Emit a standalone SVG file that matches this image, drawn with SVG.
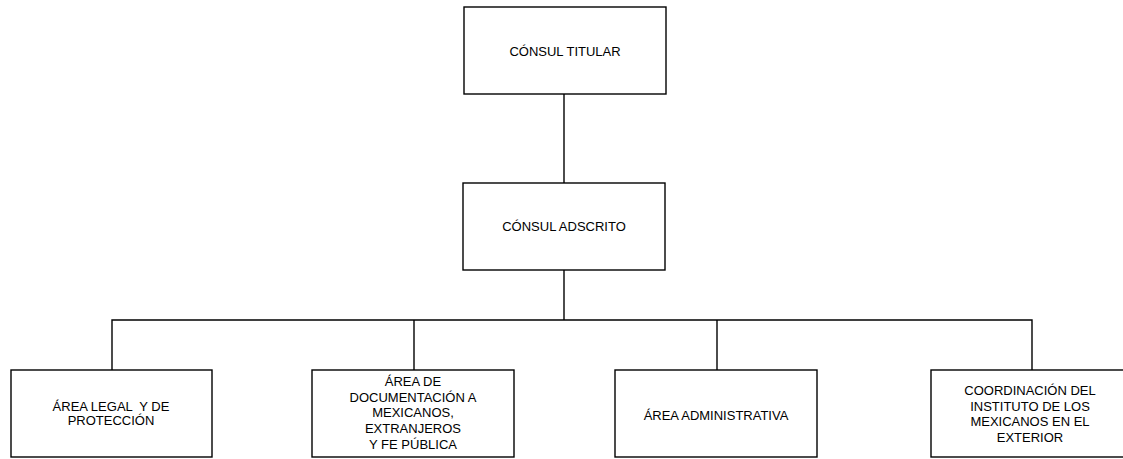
<svg xmlns="http://www.w3.org/2000/svg" width="1123" height="459" viewBox="0 0 1123 459">
<style>
.box{fill:#fff;stroke:#000;stroke-width:1.4}
.ln{fill:none;stroke:#000;stroke-width:1.4}
text{font-family:"Liberation Sans",Arial,sans-serif;font-size:13px;fill:#000;text-anchor:middle}
</style>
<rect width="1123" height="459" fill="#fff"/>
<g id="connectors">
<line class="ln" x1="564" y1="94" x2="564" y2="183"/>
<line class="ln" x1="564" y1="270" x2="564" y2="320"/>
<polyline class="ln" points="112,370 112,320 1032,320 1032,370"/>
<line class="ln" x1="414" y1="320" x2="414" y2="370"/>
<line class="ln" x1="717" y1="320" x2="717" y2="370"/>
</g>
<g id="n1">
<rect class="box" x="464" y="7" width="202" height="87"/>
<text x="565" y="56">CÓNSUL TITULAR</text>
</g>
<g id="n2">
<rect class="box" x="463" y="183" width="202" height="87"/>
<text x="564" y="231">CÓNSUL ADSCRITO</text>
</g>
<g id="n3">
<rect class="box" x="11" y="370" width="201" height="87"/>
<text x="111" y="411" xml:space="preserve">ÁREA LEGAL  Y DE</text>
<text x="111" y="425">PROTECCIÓN</text>
</g>
<g id="n4">
<rect class="box" x="312" y="370" width="202" height="87"/>
<text x="413" y="386">ÁREA DE</text>
<text x="413" y="402">DOCUMENTACIÓN A</text>
<text x="413" y="417">MEXICANOS,</text>
<text x="413" y="433">EXTRANJEROS</text>
<text x="413" y="449">Y FE PÚBLICA</text>
</g>
<g id="n5">
<rect class="box" x="615" y="370" width="202" height="87"/>
<text x="716" y="420">ÁREA ADMINISTRATIVA</text>
</g>
<g id="n6">
<rect class="box" x="931" y="370" width="202" height="87"/>
<text x="1030" y="395">COORDINACIÓN DEL</text>
<text x="1030" y="411">INSTITUTO DE LOS</text>
<text x="1030" y="426">MEXICANOS EN EL</text>
<text x="1030" y="442">EXTERIOR</text>
</g>
</svg>
